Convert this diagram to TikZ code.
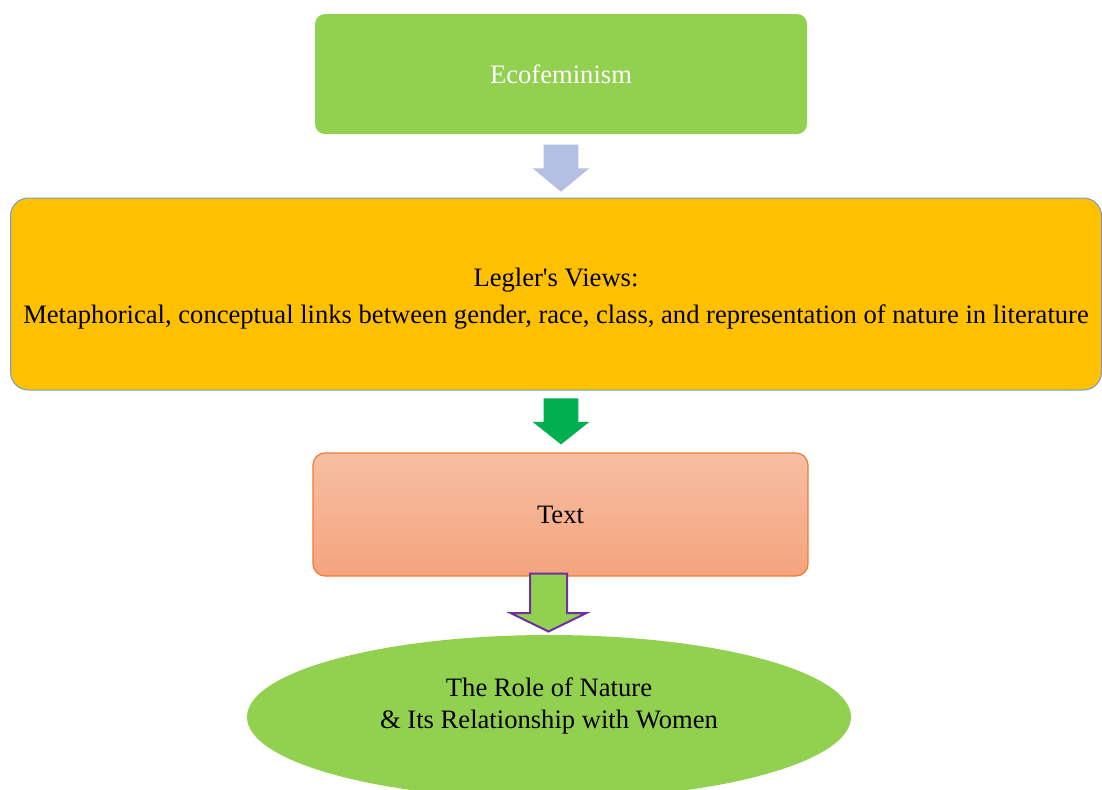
\documentclass[tikz,border=0pt]{standalone}
\usepackage{fontspec}
\setmainfont{Liberation Serif}
\usetikzlibrary{shapes.geometric,shapes.arrows}

\definecolor{leafgreen}{HTML}{92D050}
\definecolor{amber}{HTML}{FFC000}
\definecolor{skyline}{HTML}{6A9FD6}
\definecolor{peachtop}{HTML}{F7BEA3}
\definecolor{peachbottom}{HTML}{F4A47D}
\definecolor{peachline}{HTML}{ED7D31}
\definecolor{lavender}{HTML}{B4C0E3}
\definecolor{emerald}{HTML}{00B050}
\definecolor{plum}{HTML}{7030A0}

\tikzset{
    textfont/.style={font=\fontsize{13.3}{15.3}\selectfont},
    box/.style={rectangle, textfont, align=center, inner sep=0pt},
    downarrow/.style={single arrow, rotate=-90, inner xsep=0pt, draw=none}
}

\begin{document}
\begin{tikzpicture}[x=0.5pt,y=-0.5pt]
    \useasboundingbox (0,0) rectangle (1102,789);

    % boxes
    \node [box, at={(561,74)}, fill=leafgreen, text=white, rounded corners=5pt,
        minimum width=246pt, minimum height=60pt] (eco) {Ecofeminism};
    \node [box, at={(556,294)}, fill=amber, draw=skyline, line width=0.5pt, rounded corners=9pt,
        minimum width=545.5pt, minimum height=96pt] (legler)
        {\rule{0pt}{14pt}Legler\textquotesingle s Views:\\[3.2pt] Metaphorical, conceptual links between gender, race, class, and representation of nature in literature};
    \node [box, at={(560.5,514.5)}, top color=peachtop, bottom color=peachbottom, draw=peachline,
        line width=0.6pt, rounded corners=6pt, minimum width=247.5pt, minimum height=61.5pt] (text) {Text};
    \node [ellipse, textfont, align=center, at={(549,717)}, fill=leafgreen, inner sep=0pt,
        minimum width=302pt, minimum height=82pt] (role)
        {The Role of Nature\\[0.7pt] \& Its Relationship with Women\rule[-14pt]{0pt}{14pt}};

    % arrows
    \node [downarrow, at={(561,161)}, fill=lavender, inner ysep=8.5pt, minimum height=23.5pt,
        single arrow head extend=5.5pt, single arrow tip angle=101] (arr1) {};
    \node [downarrow, at={(561,414.5)}, fill=emerald, inner ysep=8.5pt, minimum height=23pt,
        single arrow head extend=5.5pt, single arrow tip angle=103] (arr2) {};
    \node [downarrow, at={(548.5,598)}, fill=leafgreen, draw=plum, line width=1pt, inner ysep=8.75pt,
        minimum height=29pt, single arrow head extend=9.5pt, single arrow tip angle=128] (arr3) {};
\end{tikzpicture}
\end{document}
